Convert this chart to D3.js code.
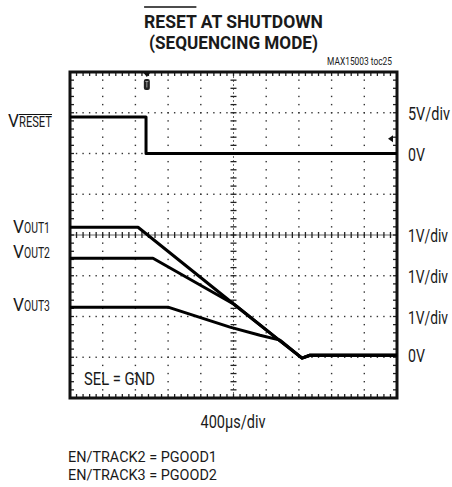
<!DOCTYPE html>
<html>
<head>
<meta charset="utf-8">
<script src="https://cdn.jsdelivr.net/npm/d3@7"></script>
<style>
  body { margin: 0; background: #fff; }
  svg { display: block; }
  text { font-family: Roboto, 'Liberation Sans', sans-serif; fill: #1a1a1a; }
</style>
</head>
<body>
<script>
// time in us (400us/div, 10 divs), voltages in V
const triggerTime = 940;
const resetT = [0, 930, 930, 4000];
const resetV = [4.48, 4.48, 0, 0];
const vout1T = [0, 832, 2006, 2569, 2838, 2936, 4000];
const vout1V = [3.14, 3.14, 1.25, 0.35, -0.07, 0, 0];
const vout2T = [0, 1015, 2006, 2569, 2838, 2936, 4000];
const vout2V = [2.38, 2.38, 1.25, 0.35, -0.07, 0, 0];
const vout3T = [0, 1199, 1957, 2324, 2569, 2838, 2936, 4000];
const vout3V = [1.18, 1.18, 0.69, 0.49, 0.37, -0.07, 0, 0];

const leftNames = ['RESET', 'OUT1', 'OUT2', 'OUT3'];
const rightLabels = ['5V/div', '0V', '1V/div', '1V/div', '1V/div', '0V'];
const rightLabelDivs = [7, 6, 4, 3, 2, 1.05];

const W = 452, H = 487;
const svg = d3.select('body').append('svg').attr('width', W).attr('height', H);

const pL = 70, pR = 397, pT = 72, pB = 398;
const x = d3.scaleLinear().domain([0, 4000]).range([pL, pR]);
const ydiv = d3.scaleLinear().domain([0, 8]).range([pB, pT]);
const yReset = d3.scaleLinear().domain([-30, 10]).range([pB, pT]);   // 5V/div, 0V at div 6
const yOut = d3.scaleLinear().domain([-1.05, 6.95]).range([pB, pT]); // 1V/div

// condensed text: squeeze horizontally to the given width
function label(str, lx, ly, width, size, anchor, bold) {
  const t = svg.append('text').attr('font-size', size)
    .attr('text-anchor', anchor || 'start')
    .attr('font-weight', bold ? 'bold' : null).text(str);
  const s = width / t.node().getComputedTextLength();
  t.attr('transform', `translate(${lx},${ly}) scale(${s},1)`);
  t.sx = s;
  return t;
}

const minorT = d3.range(0, 4000.1, 80);
const minorD = d3.range(0, 8.001, 0.2);
const majorT = d3.range(400, 3601, 400).filter(t => t !== 2000);
const majorD = [1, 2, 3, 5, 6, 7];

const grid = svg.append('g');

// dotted graticule
majorT.forEach(t => {
  grid.selectAll(null).data(minorD.slice(1, -1)).enter().append('rect')
    .attr('x', x(t) - 0.7).attr('y', d => ydiv(d) - 0.7)
    .attr('width', 1.4).attr('height', 1.4).attr('fill', '#333');
});
majorD.forEach(dv => {
  grid.selectAll(null).data(minorT.slice(1, -1)).enter().append('rect')
    .attr('x', d => x(d) - 0.7).attr('y', ydiv(dv) - 0.7)
    .attr('width', 1.4).attr('height', 1.4).attr('fill', '#333');
});

// centre axes with ticks
grid.append('line').attr('x1', x(2000)).attr('x2', x(2000)).attr('y1', pT).attr('y2', pB)
  .attr('stroke', '#444').attr('stroke-width', 0.8).attr('stroke-dasharray', '2,2');
grid.append('line').attr('y1', ydiv(4)).attr('y2', ydiv(4)).attr('x1', pL).attr('x2', pR)
  .attr('stroke', '#444').attr('stroke-width', 0.8);
grid.selectAll(null).data(minorD).enter().append('line')
  .attr('x1', x(2000) - 3).attr('x2', x(2000) + 3)
  .attr('y1', d => ydiv(d)).attr('y2', d => ydiv(d))
  .attr('stroke', '#222').attr('stroke-width', 1.3);
grid.selectAll(null).data(minorT).enter().append('line')
  .attr('y1', ydiv(4) - 3).attr('y2', ydiv(4) + 3)
  .attr('x1', d => x(d)).attr('x2', d => x(d))
  .attr('stroke', '#222').attr('stroke-width', 1.3);

// border ticks
grid.selectAll(null).data(minorT).enter().append('line')
  .attr('x1', d => x(d)).attr('x2', d => x(d)).attr('y1', pT).attr('y2', pT + 4)
  .attr('stroke', '#222').attr('stroke-width', 1.3);
grid.selectAll(null).data(minorT).enter().append('line')
  .attr('x1', d => x(d)).attr('x2', d => x(d)).attr('y1', pB).attr('y2', pB - 4)
  .attr('stroke', '#222').attr('stroke-width', 1.3);
grid.selectAll(null).data(minorD).enter().append('line')
  .attr('y1', d => ydiv(d)).attr('y2', d => ydiv(d)).attr('x1', pL).attr('x2', pL + 4)
  .attr('stroke', '#222').attr('stroke-width', 1.3);
grid.selectAll(null).data(minorD).enter().append('line')
  .attr('y1', d => ydiv(d)).attr('y2', d => ydiv(d)).attr('x1', pR).attr('x2', pR - 4)
  .attr('stroke', '#222').attr('stroke-width', 1.3);

grid.append('rect').attr('x', pL).attr('y', pT)
  .attr('width', pR - pL).attr('height', pB - pT)
  .attr('fill', 'none').attr('stroke', '#111').attr('stroke-width', 3);

// trigger markers
const tx = x(triggerTime);
svg.append('path').attr('d', `M${tx - 4},${pT}L${tx + 4},${pT}L${tx},${pT + 5}Z`).attr('fill', '#111');
svg.append('rect').attr('x', tx - 3).attr('y', pT + 7).attr('width', 6).attr('height', 11)
  .attr('rx', 2).attr('fill', '#222');
svg.append('path').attr('d', `M${tx - 1.5},${pT + 9.5}H${tx + 1.5}M${tx},${pT + 9.5}V${pT + 15.5}`)
  .attr('stroke', '#bbb').attr('stroke-width', 0.8);
const ly = yReset(1.8);
svg.append('path').attr('d', `M${pR - 9},${ly}L${pR - 4},${ly - 3.5}L${pR - 4},${ly + 3.5}Z`).attr('fill', '#111');

// traces
const lineOut = d3.line().x(d => x(d[0])).y(d => yOut(d[1]));
const lineReset = d3.line().x(d => x(d[0])).y(d => yReset(d[1]));
const traces = svg.append('g').attr('fill', 'none').attr('stroke', '#000')
  .attr('stroke-width', 3).attr('stroke-linejoin', 'round');
traces.append('path').attr('d', lineReset(d3.zip(resetT, resetV)));
traces.append('path').attr('d', lineOut(d3.zip(vout3T, vout3V)));
traces.append('path').attr('d', lineOut(d3.zip(vout2T, vout2V)));
traces.append('path').attr('d', lineOut(d3.zip(vout1T, vout1V)));

// title
const t1 = label('RESET AT SHUTDOWN', 233.5, 27.5, 179, 18, 'middle', true);
label('(SEQUENCING MODE)', 233.5, 48.5, 169, 18, 'middle', true);
{
  const n = t1.node();
  const a = n.getExtentOfChar(0), b = n.getExtentOfChar(4);
  svg.append('line').attr('x1', 233.5 + a.x * t1.sx).attr('x2', 233.5 + (b.x + b.width) * t1.sx)
    .attr('y1', 7).attr('y2', 7).attr('stroke', '#111').attr('stroke-width', 1.6);
}
label('MAX15003 toc25', 392, 65, 65, 11, 'end');

// left channel labels
const leftBase = [127, 233, 258, 311];
const leftX = [8, 13, 13, 13];
const subW = [33, 26, 26, 26];
leftNames.forEach((nm, i) => {
  label('V', leftX[i], leftBase[i], 11, 18.5);
  label(nm, leftX[i] + 11, leftBase[i], subW[i], 14);
  if (nm === 'RESET') {
    svg.append('line').attr('x1', leftX[i] + 11).attr('x2', leftX[i] + 11 + subW[i])
      .attr('y1', leftBase[i] - 12.5).attr('y2', leftBase[i] - 12.5)
      .attr('stroke', '#111').attr('stroke-width', 1.1);
  }
});

// right scale labels
const rightLen = { '5V/div': 42, '1V/div': 40, '0V': 17 };
rightLabels.forEach((s, i) => {
  label(s, 408, ydiv(rightLabelDivs[i]) + 7, rightLen[s], 18);
});

label('SEL = GND', 84, 385, 71, 18);
label('400µs/div', 233, 428, 65, 18, 'middle');
label('EN/TRACK2 = PGOOD1', 68, 462, 149, 15.5);
label('EN/TRACK3 = PGOOD2', 68, 480, 149, 15.5);
</script>
</body>
</html>
